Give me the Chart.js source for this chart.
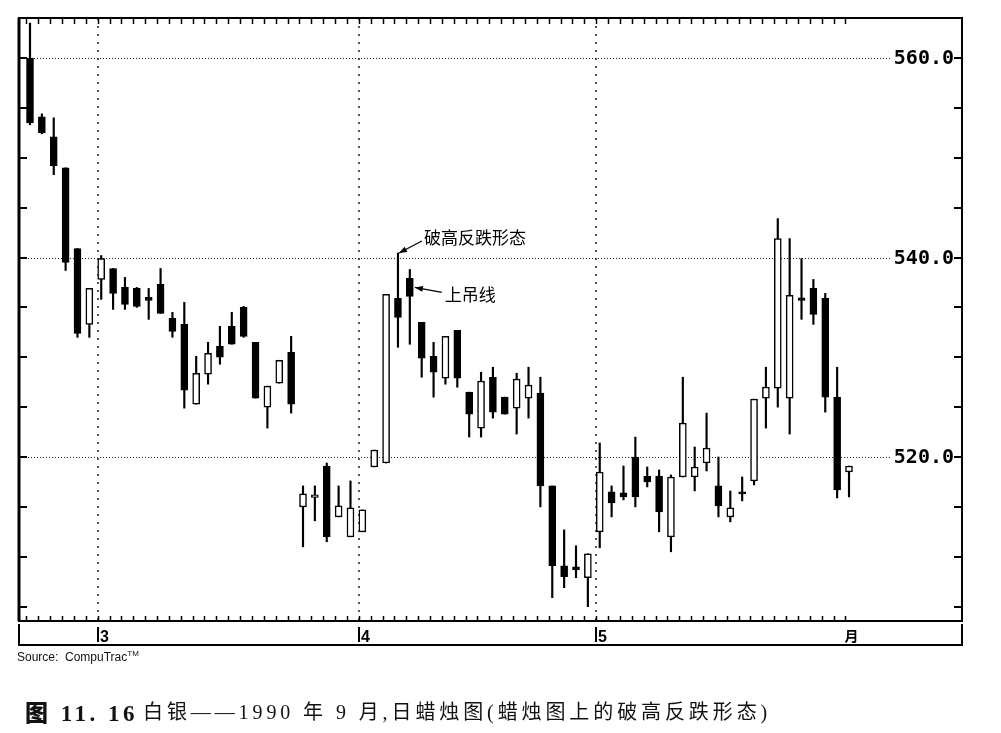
<!DOCTYPE html>
<html>
<head>
<meta charset="utf-8">
<script src="https://cdn.jsdelivr.net/npm/chart.js@4.4.0/dist/chart.umd.min.js"></script>
<style>
  body { margin: 0; background: #fff; }
  #wrap { position: relative; width: 1001px; height: 733px; overflow: hidden; }
  #chart { position: absolute; left: 0; top: 0; }
  .source { position: absolute; left: 17px; top: 649px; font: 12px "Liberation Sans", Arial, sans-serif; color: #111; }
  .source sup { font-size: 8px; }
  .caption { position: absolute; left: 25px; top: 694px; font-size: 20px; color: #111; white-space: nowrap; }
  .caption .num { font: bold 23px "Liberation Serif", "Noto Sans CJK SC", serif; letter-spacing: 3.5px; }
  .caption .txt { position: absolute; left: 118px; top: 2px; font: 20px "Liberation Serif", "Noto Sans CJK SC", serif; letter-spacing: 3.9px; }
</style>
</head>
<body>
<div id="wrap">
  <canvas id="chart" width="1001" height="733"></canvas>
  <div class="source">Source:&nbsp; CompuTrac<sup>TM</sup></div>
  <div class="caption"><span class="num"><b style="font-family:'Noto Sans CJK SC'">图</b> 11. 16</span><span class="txt">白银——1990 年 9 月,日蜡烛图(蜡烛图上的破高反跌形态)</span></div>
</div>
<script>
// 白银 1990 年 9 月 日线
const opens = [560.0, 554.1, 552.1, 549.0, 540.9, 533.3, 537.8, 538.9, 537.0, 536.9,
  536.0, 537.3, 533.9, 533.3, 525.3, 528.3, 531.1, 533.1, 535.0, 531.5,
  525.0, 527.4, 530.5, 515.0, 515.95, 519.1, 514.0, 512.0, 512.5, 519.0,
  519.4, 535.9, 537.9, 533.5, 530.1, 527.9, 532.7, 526.5, 522.9, 528.0,
  526.0, 524.9, 525.9, 526.4, 517.1, 509.1, 509.0, 507.9, 512.5, 516.5,
  516.4, 520.0, 518.1, 518.1, 512.0, 518.0, 518.0, 519.4, 517.1, 514.0,
  516.5, 517.6, 525.9, 526.9, 525.9, 535.95, 536.9, 535.9, 526.0, 518.5];
const highs = [563.5, 554.4, 554.0, 549.0, 540.9, 536.9, 540.2, 538.9, 538.0, 537.0,
  536.9, 538.9, 534.5, 535.5, 530.1, 531.5, 533.1, 534.5, 535.1, 531.5,
  527.1, 529.7, 532.1, 517.1, 517.1, 519.4, 517.1, 517.6, 514.7, 520.7,
  536.3, 540.45, 538.8, 533.5, 531.5, 532.1, 532.7, 526.5, 528.5, 529.0,
  526.0, 528.4, 529.0, 528.0, 517.1, 512.7, 511.1, 510.3, 521.4, 517.1,
  519.1, 522.0, 519.0, 518.7, 518.2, 528.0, 521.0, 524.4, 520.0, 516.6,
  518.0, 525.8, 529.0, 543.9, 541.9, 539.9, 537.8, 536.4, 529.0, 519.1];
const lows = [553.3, 552.4, 548.3, 538.7, 532.0, 532.0, 535.8, 534.8, 534.8, 535.0,
  533.8, 534.4, 532.0, 524.9, 525.3, 527.3, 529.3, 531.3, 532.0, 525.9,
  522.9, 527.4, 524.4, 511.0, 513.6, 511.5, 514.0, 512.0, 512.5, 519.0,
  519.4, 531.0, 531.3, 528.0, 526.0, 527.3, 527.0, 522.0, 522.0, 523.9,
  524.3, 522.3, 523.9, 515.0, 505.9, 506.9, 507.9, 505.0, 510.9, 514.0,
  515.7, 515.0, 517.0, 512.5, 510.5, 518.0, 516.6, 518.6, 514.0, 513.5,
  515.6, 517.2, 522.9, 525.0, 522.3, 533.8, 533.3, 524.5, 515.9, 516.0];
const closes = [553.5, 552.5, 549.2, 539.5, 532.4, 536.9, 539.9, 536.4, 535.3, 535.1,
  535.7, 534.4, 532.6, 526.7, 528.4, 530.4, 530.0, 531.3, 532.1, 525.9,
  527.1, 529.7, 525.3, 516.3, 516.2, 512.0, 515.1, 514.9, 514.7, 520.7,
  536.3, 534.0, 536.1, 529.9, 528.5, 532.1, 527.9, 524.3, 527.6, 524.5,
  524.3, 527.8, 527.2, 517.1, 509.1, 508.0, 508.7, 510.3, 518.5, 515.4,
  516.0, 516.0, 517.5, 514.5, 518.0, 523.4, 519.0, 520.9, 515.1, 514.9,
  516.3, 525.8, 527.0, 541.9, 536.2, 535.7, 534.3, 526.0, 516.7, 519.1];
const days = opens.map((_, i) => i + 1);

const priceTicks = [505, 510, 515, 520, 525, 530, 535, 540, 545, 550, 555, 560];
const priceLabels = [520, 540, 560];
const monthDays = [7, 29, 49];
const monthLabels = ['3', '4', '5'];
const endLabel = '月';
const endLabelDay = 70.2;
const tickShift = 0.3;

const noteHigh = { day: 32, text: '破高反跌形态' };
const noteHang = { day: 33, text: '上吊线' };

function arrow(ctx, x1, y1, x2, y2) {
    const ang = Math.atan2(y2 - y1, x2 - x1);
    ctx.beginPath();
    ctx.moveTo(x1, y1);
    ctx.lineTo(x2, y2);
    ctx.stroke();
    ctx.beginPath();
    ctx.moveTo(x2, y2);
    ctx.lineTo(x2 - 8 * Math.cos(ang) + 3 * Math.sin(ang), y2 - 8 * Math.sin(ang) - 3 * Math.cos(ang));
    ctx.lineTo(x2 - 8 * Math.cos(ang) - 3 * Math.sin(ang), y2 - 8 * Math.sin(ang) + 3 * Math.cos(ang));
    ctx.closePath();
    ctx.fill();
}

const frame = {
    id: 'frame',
    beforeDatasetsDraw(chart) {
        const { ctx, chartArea: a, scales: { x, y } } = chart;
        ctx.save();
        ctx.strokeStyle = '#222';
        ctx.lineWidth = 1;
        ctx.setLineDash([1, 2]);
        priceLabels.forEach(v => {
            const py = Math.round(y.getPixelForValue(v)) + 0.5;
            ctx.beginPath();
            ctx.moveTo(a.left, py);
            ctx.lineTo(a.right, py);
            ctx.stroke();
        });
        ctx.setLineDash([2, 6]);
        ctx.lineWidth = 1.5;
        monthDays.forEach(d => {
            const px = Math.round(x.getPixelForValue(d - tickShift));
            ctx.beginPath();
            ctx.moveTo(px, a.top);
            ctx.lineTo(px, a.bottom);
            ctx.stroke();
        });
        ctx.restore();
    },
    afterDraw(chart) {
        const { ctx, chartArea: a, scales: { x, y } } = chart;
        ctx.save();
        ctx.strokeStyle = '#000';
        ctx.fillStyle = '#000';

        // 价格标签
        ctx.font = 'bold 20px "DejaVu Sans Mono", monospace';
        ctx.textAlign = 'right';
        ctx.textBaseline = 'middle';
        priceLabels.forEach(v => {
            const py = y.getPixelForValue(v);
            const w = ctx.measureText(v.toFixed(1)).width;
            ctx.fillStyle = '#fff';
            ctx.fillRect(a.right - 9 - w - 2, py - 8, w + 2, 16);
            ctx.fillStyle = '#000';
            ctx.fillText(v.toFixed(1), a.right - 8, py + 1);
        });

        // 边框
        ctx.lineWidth = 2;
        ctx.strokeRect(a.left, a.top, a.right - a.left, a.bottom - a.top);
        ctx.lineWidth = 3;
        ctx.beginPath();
        ctx.moveTo(a.left, a.top);
        ctx.lineTo(a.left, a.bottom);
        ctx.stroke();

        // 刻度
        ctx.lineWidth = 2;
        priceTicks.forEach(v => {
            const py = Math.round(y.getPixelForValue(v));
            ctx.beginPath();
            ctx.moveTo(a.left, py);
            ctx.lineTo(a.left + 8, py);
            ctx.moveTo(a.right - 8, py);
            ctx.lineTo(a.right, py);
            ctx.stroke();
        });
        ctx.lineWidth = 1.5;
        days.forEach(d => {
            const px = Math.round(x.getPixelForValue(d - tickShift)) + 0.5;
            ctx.beginPath();
            ctx.moveTo(px, a.top);
            ctx.lineTo(px, a.top + 6);
            ctx.moveTo(px, a.bottom);
            ctx.lineTo(px, a.bottom - 5);
            ctx.stroke();
        });

        // 下方日期栏
        const boxTop = a.bottom + 3, boxBot = a.bottom + 24;
        ctx.lineWidth = 2;
        ctx.beginPath();
        ctx.moveTo(a.left, boxTop);
        ctx.lineTo(a.left, boxBot);
        ctx.lineTo(a.right, boxBot);
        ctx.lineTo(a.right, boxTop);
        ctx.stroke();
        ctx.textAlign = 'left';
        ctx.textBaseline = 'alphabetic';
        ctx.font = 'bold 16px "Liberation Sans", Arial, sans-serif';
        monthDays.forEach((d, i) => {
            const px = Math.round(x.getPixelForValue(d - tickShift));
            ctx.beginPath();
            ctx.moveTo(px, boxTop + 3);
            ctx.lineTo(px, boxTop + 18);
            ctx.stroke();
            ctx.fillText(monthLabels[i], px + 2, boxTop + 18);
        });
        ctx.textAlign = 'center';
        ctx.font = 'bold 14px "Noto Sans CJK SC", sans-serif';
        ctx.fillText(endLabel, x.getPixelForValue(endLabelDay), boxTop + 17);

        // 注释
        ctx.lineWidth = 1.3;
        ctx.font = '17px "Noto Sans CJK SC", sans-serif';
        ctx.textAlign = 'left';
        ctx.textBaseline = 'middle';
        let tx = x.getPixelForValue(noteHigh.day);
        let ty = y.getPixelForValue(highs[noteHigh.day - 1]);
        arrow(ctx, tx + 24, ty - 12, tx + 1, ty);
        ctx.fillText(noteHigh.text, tx + 26, ty - 15);

        const i = noteHang.day - 1;
        tx = x.getPixelForValue(noteHang.day) + 5;
        ty = y.getPixelForValue((opens[i] + closes[i]) / 2);
        arrow(ctx, tx + 27, ty + 5, tx, ty);
        ctx.fillText(noteHang.text, tx + 30, ty + 7);
        ctx.restore();
    }
};

new Chart(document.getElementById('chart'), {
    type: 'bar',
    data: {
        datasets: [
            {
                label: '实体',
                data: days.map((d, i) => ({ x: d, y: [opens[i], closes[i]] })),
                backgroundColor: days.map((d, i) => closes[i] >= opens[i] ? '#fff' : '#000'),
                borderColor: '#000',
                borderWidth: 1.5,
                borderSkipped: false,
                barThickness: 7,
                grouped: false,
                order: 0
            },
            {
                label: '影线',
                data: days.map((d, i) => ({ x: d, y: [lows[i], highs[i]] })),
                backgroundColor: '#000',
                borderWidth: 0,
                barThickness: 1.5,
                grouped: false,
                order: 1
            }
        ]
    },
    options: {
        responsive: false,
        animation: false,
        devicePixelRatio: 1,
        layout: { padding: { left: 19, top: 18, right: 39, bottom: 112 } },
        plugins: { legend: { display: false }, tooltip: { enabled: false } },
        scales: {
            x: { type: 'linear', min: 0.073, max: 79.52, offset: false, display: false },
            y: { type: 'linear', min: 503.56, max: 564.01, display: false }
        }
    },
    plugins: [frame]
});
</script>
</body>
</html>
